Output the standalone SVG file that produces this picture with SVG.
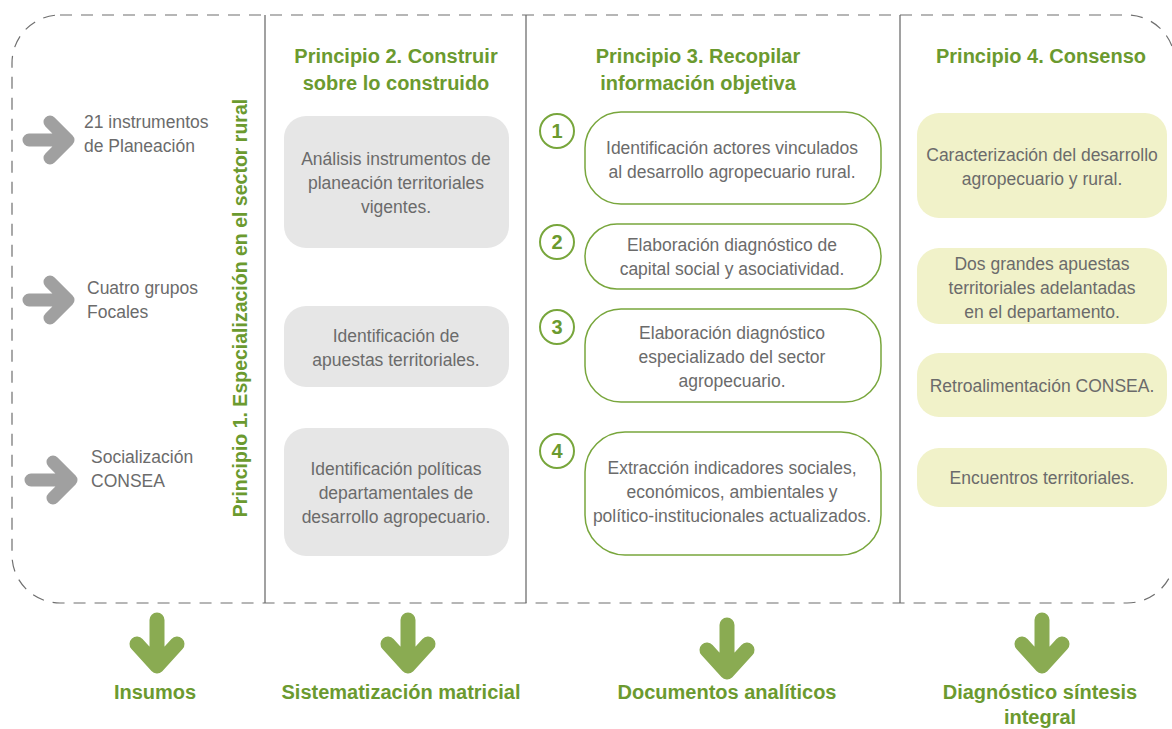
<svg xmlns="http://www.w3.org/2000/svg" width="1172" height="729" viewBox="0 0 1172 729">
<style>
.t{font-family:"Liberation Sans Narrow","Liberation Sans",Arial,sans-serif;font-size:17.5px;fill:#6b6b6b;text-anchor:middle}
.tl{text-anchor:start}
.h{font-family:"Liberation Sans Narrow","Liberation Sans",Arial,sans-serif;font-size:20px;font-weight:bold;fill:#6b9a2f;text-anchor:middle}
.n{font-family:"Liberation Sans",Arial,sans-serif;font-size:20px;font-weight:bold;fill:#6b9a2f;text-anchor:middle}
.div{stroke:#6f6f6f;stroke-width:1.3}
.gb{fill:#e6e6e6}
.yb{fill:#f1f2c9}
.wb{fill:#fff;stroke:#78a63c;stroke-width:1.5}
.nc{fill:#fff;stroke:#78a63c;stroke-width:2}
.ga{fill:none;stroke:#a0a0a0;stroke-width:13;stroke-linecap:round;stroke-linejoin:round}
.da{fill:none;stroke:#8aab52;stroke-width:15;stroke-linecap:round;stroke-linejoin:round}
</style>
<rect width="1172" height="729" fill="#fff"/>
<g id="frame">
<rect x="12" y="15" width="1163" height="588" rx="48" fill="none" stroke="#6f6f6f" stroke-width="1.2" stroke-dasharray="12,9"/>
<line class="div" x1="265" y1="15" x2="265" y2="603"/>
<line class="div" x1="526" y1="15" x2="526" y2="603"/>
<line class="div" x1="900" y1="15" x2="900" y2="603"/>
</g>
<g id="principio1">
<text class="h" transform="translate(247,308) rotate(-90)" style="font-size:19.5px">Principio 1. Especialización en el sector rural</text>
</g>
<g id="insumo1">
<path class="ga" d="M29,140 H68 M50,122 L68,140 L50,158"/>
<text class="t tl" x="84" y="128">21 instrumentos</text>
<text class="t tl" x="84" y="152">de Planeación</text>
</g>
<g id="insumo2">
<path class="ga" d="M29,300 H68 M50,282 L68,300 L50,318"/>
<text class="t tl" x="87" y="294">Cuatro grupos</text>
<text class="t tl" x="87" y="318">Focales</text>
</g>
<g id="insumo3">
<path class="ga" d="M31,480 H71 M53,462 L71,480 L53,498"/>
<text class="t tl" x="91" y="463">Socialización</text>
<text class="t tl" x="91" y="487">CONSEA</text>
</g>
<g id="principio2">
<text class="h" x="396" y="63">Principio 2. Construir</text>
<text class="h" x="396" y="90">sobre lo construido</text>
</g>
<g id="p2-box1">
<rect class="gb" x="284" y="116" width="225" height="132" rx="22"/>
<text class="t" x="396" y="165">Análisis instrumentos de</text>
<text class="t" x="396" y="189">planeación territoriales</text>
<text class="t" x="396" y="213">vigentes.</text>
</g>
<g id="p2-box2">
<rect class="gb" x="284" y="306" width="225" height="81" rx="22"/>
<text class="t" x="396" y="342">Identificación de</text>
<text class="t" x="396" y="366">apuestas territoriales.</text>
</g>
<g id="p2-box3">
<rect class="gb" x="284" y="428" width="225" height="128" rx="22"/>
<text class="t" x="396" y="475">Identificación políticas</text>
<text class="t" x="396" y="499">departamentales de</text>
<text class="t" x="396" y="523">desarrollo agropecuario.</text>
</g>
<g id="principio3">
<text class="h" x="698" y="63">Principio 3. Recopilar</text>
<text class="h" x="698" y="90">información objetiva</text>
</g>
<g id="p3-item1">
<circle class="nc" cx="557" cy="131" r="17"/>
<text class="n" x="557" y="138">1</text>
<rect class="wb" x="585" y="112" width="296" height="92" rx="36"/>
<text class="t" x="732" y="154">Identificación actores vinculados</text>
<text class="t" x="732" y="178">al desarrollo agropecuario rural.</text>
</g>
<g id="p3-item2">
<circle class="nc" cx="557" cy="242" r="17"/>
<text class="n" x="557" y="249">2</text>
<rect class="wb" x="585" y="224" width="296" height="65" rx="32"/>
<text class="t" x="732" y="251">Elaboración diagnóstico de</text>
<text class="t" x="732" y="275">capital social y asociatividad.</text>
</g>
<g id="p3-item3">
<circle class="nc" cx="557" cy="327" r="17"/>
<text class="n" x="557" y="334">3</text>
<rect class="wb" x="585" y="309" width="296" height="93" rx="36"/>
<text class="t" x="732" y="339">Elaboración diagnóstico</text>
<text class="t" x="732" y="363">especializado del sector</text>
<text class="t" x="732" y="387">agropecuario.</text>
</g>
<g id="p3-item4">
<circle class="nc" cx="557" cy="451" r="17"/>
<text class="n" x="557" y="458">4</text>
<rect class="wb" x="585" y="432" width="296" height="123" rx="40"/>
<text class="t" x="732" y="474">Extracción indicadores sociales,</text>
<text class="t" x="732" y="498">económicos, ambientales y</text>
<text class="t" x="732" y="522">político-institucionales actualizados.</text>
</g>
<g id="principio4">
<text class="h" x="1041" y="63">Principio 4. Consenso</text>
</g>
<g id="p4-box1">
<rect class="yb" x="917" y="113" width="250" height="105" rx="22"/>
<text class="t" x="1042" y="161">Caracterización del desarrollo</text>
<text class="t" x="1042" y="185">agropecuario y rural.</text>
</g>
<g id="p4-box2">
<rect class="yb" x="917" y="248" width="250" height="76" rx="22"/>
<text class="t" x="1042" y="270">Dos grandes apuestas</text>
<text class="t" x="1042" y="294">territoriales adelantadas</text>
<text class="t" x="1042" y="318">en el departamento.</text>
</g>
<g id="p4-box3">
<rect class="yb" x="917" y="353" width="250" height="64" rx="22"/>
<text class="t" x="1042" y="392">Retroalimentación CONSEA.</text>
</g>
<g id="p4-box4">
<rect class="yb" x="917" y="448" width="250" height="59" rx="22"/>
<text class="t" x="1042" y="484">Encuentros territoriales.</text>
</g>
<g id="connectors">
<path class="da" d="M157,620 V664 M137,644 L157,666 L177,644"/>
<path class="da" d="M408,620 V664 M388,644 L408,666 L428,644"/>
<path class="da" d="M727,625 V670 M707,650 L727,672 L747,650"/>
<path class="da" d="M1042,620 V664 M1022,644 L1042,666 L1062,644"/>
</g>
<g id="outputs">
<text class="h" x="155" y="699">Insumos</text>
<text class="h" x="401" y="699">Sistematización matricial</text>
<text class="h" x="727" y="699">Documentos analíticos</text>
<text class="h" x="1040" y="699">Diagnóstico síntesis</text>
<text class="h" x="1040" y="724">integral</text>
</g>
</svg>
